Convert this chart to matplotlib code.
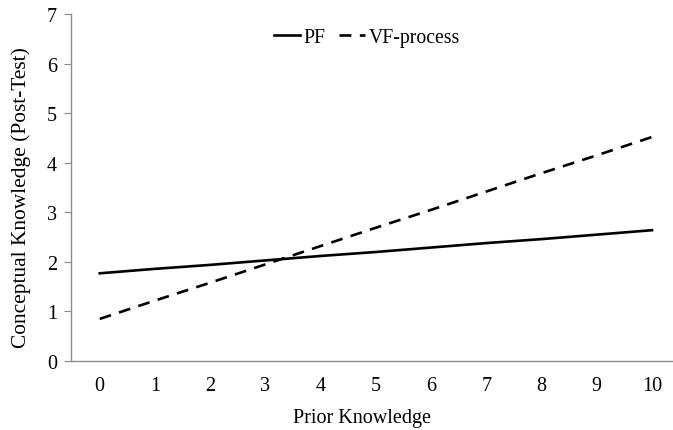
import matplotlib
matplotlib.use("Agg")
import matplotlib.pyplot as plt

prior = [0, 1, 2, 3, 4, 5, 6, 7, 8, 9, 10]
pf = [1.77, 1.86, 1.94, 2.03, 2.12, 2.20, 2.29, 2.38, 2.46, 2.55, 2.64]
vf_process = [0.85, 1.22, 1.58, 1.95, 2.32, 2.69, 3.05, 3.42, 3.79, 4.15, 4.52]
yticks = [0, 1, 2, 3, 4, 5, 6, 7]

plt.rcParams['font.family'] = ['Liberation Serif', 'DejaVu Serif']

fig = plt.figure(figsize=(6.73, 4.31), dpi=100)
ax = fig.add_axes([0.1055, 0.160, 0.8945, 0.805])

ax.plot(prior, pf, color='black', lw=1.9, label='PF')
ax.plot(prior, vf_process, color='black', lw=1.9, ls=(0, (4.5, 3.2)), label='VF-process')

ax.set_xlim(-0.52, 10.38)
ax.set_ylim(0, 7)
ax.set_xticks(prior)
ax.set_xticklabels([str(p) for p in prior])
ax.set_yticks(yticks)

for s in ['top', 'right']:
    ax.spines[s].set_visible(False)
for s in ['left', 'bottom']:
    ax.spines[s].set_color('#8c8c8c')
    ax.spines[s].set_linewidth(1.0)

ax.tick_params(axis='x', length=0, pad=11, labelsize=14.5)
ax.tick_params(axis='y', length=5, color='#8c8c8c', pad=5, labelsize=14.5)

ax.set_xlabel('Prior Knowledge', fontsize=14.5, labelpad=8)
ax.xaxis.set_label_coords(0.483, -0.135)
ax.set_ylabel('Conceptual Knowledge (Post-Test)', fontsize=15.4, labelpad=9)
ax.yaxis.set_label_coords(-0.067, 0.473)

ax.legend(loc='upper center', bbox_to_anchor=(0.492, 1.012), ncol=2, frameon=False,
          fontsize=14.2, handlelength=1.3, handletextpad=0.2, columnspacing=0.7)

fig.savefig('out.png', dpi=100)
